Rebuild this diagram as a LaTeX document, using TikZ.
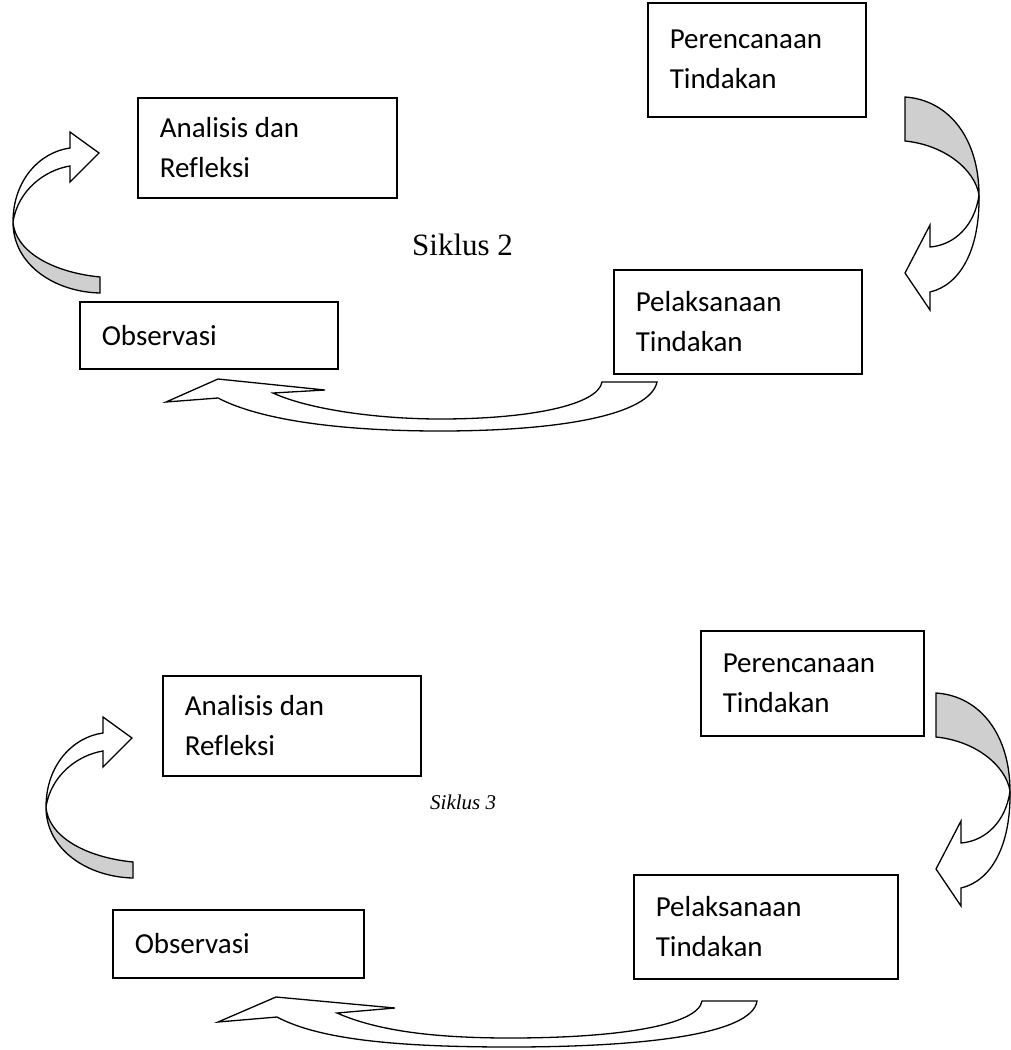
\documentclass[tikz,border=0pt]{standalone}
\usepackage{fontspec}
\setmainfont{Carlito}[Ligatures=NoCommon]
\newfontfamily\cycleserif{Liberation Serif}
\begin{document}
\begin{tikzpicture}[x=1pt,y=-1pt,
  stagebox/.style={draw, line width=1.5pt, anchor=north west, inner xsep=22pt,
    inner ysep=0pt, align=flush left, font=\fontsize{29}{40}\selectfont},
  outline/.style={draw, line width=1.3pt, line join=miter, miter limit=10},
  backface/.style={outline, fill=black!19},
  frontface/.style={outline, fill=white},
  cyclelabel/.style={anchor=west, inner sep=0pt},
  leftloop/.pic={
    \path[backface] (100,277) -- (100,293) .. controls (55,292) and (13,265) .. (13,222)
      .. controls (15,250) and (50,272) .. (100,277) -- cycle;
    \path[frontface] (13,222) .. controls (13,180) and (40,152) .. (70,148) -- (70,132)
      -- (99,153) -- (70,182) -- (70,166) .. controls (45,170) and (18,190) .. (13,222) -- cycle;
  },
  rightloop/.pic={
    \path[backface] (905,97) .. controls (950,100) and (979,140) .. (979,195)
      .. controls (975,170) and (945,145) .. (905,141) -- cycle;
    \path[frontface] (979,195) .. controls (980,250) and (960,285) .. (930,292) -- (930,310)
      -- (905,273) -- (930,225) -- (930,247) .. controls (955,245) and (975,225) .. (979,195) -- cycle;
  }
]
\useasboundingbox (0,0) rectangle (1011,1050);

% ---------------- Siklus 2 ----------------
\node[stagebox, text width=174pt, minimum height=114pt] (plan2) at (647,2) {Perencanaan\\Tindakan};
\node[stagebox, text width=215pt, minimum height=100pt] (refl2) at (137,97) {Analisis dan\\Refleksi};
\node[stagebox, text width=214pt, minimum height=67pt] (obs2) at (79,301) {Observasi};
\node[stagebox, text width=204pt, minimum height=104pt] (act2) at (613,269) {Pelaksanaan\\Tindakan};
\node[cyclelabel, font=\cycleserif\fontsize{31}{36}\selectfont] (cyc2) at (412,245) {Siklus 2};

\pic at (0,0) {leftloop};
\pic at (0,0) {rightloop};
\path[frontface] (657,382) .. controls (650,415) and (560,431) .. (440,431)
  .. controls (340,431) and (260,420) .. (218,398) -- (166,402) -- (218,379) -- (325,390)
  -- (273,393) .. controls (310,410) and (380,419) .. (440,419)
  .. controls (530,419) and (598,405) .. (602,382) -- cycle;

% ---------------- Siklus 3 ----------------
\node[stagebox, text width=179pt, minimum height=105pt] (plan3) at (700,630) {Perencanaan\\Tindakan};
\node[stagebox, text width=214pt, minimum height=100pt] (refl3) at (162,675) {Analisis dan\\Refleksi};
\node[stagebox, text width=207pt, minimum height=68pt] (obs3) at (112,909) {Observasi};
\node[stagebox, text width=220pt, minimum height=104pt] (act3) at (633,874) {Pelaksanaan\\Tindakan};
\node[cyclelabel, font=\cycleserif\itshape\fontsize{21}{25}\selectfont] (cyc3) at (430,802) {Siklus 3};

\pic at (33,585) {leftloop};
\pic at (31,596) {rightloop};
\path[frontface] (757,1001) .. controls (752,1035) and (640,1047) .. (510,1047)
  .. controls (400,1047) and (320,1040) .. (277,1017) -- (218,1022) -- (276,997) -- (395,1008)
  -- (337,1013) .. controls (380,1032) and (440,1038) .. (510,1038)
  .. controls (620,1038) and (698,1025) .. (702,1001) -- cycle;
\end{tikzpicture}
\end{document}
